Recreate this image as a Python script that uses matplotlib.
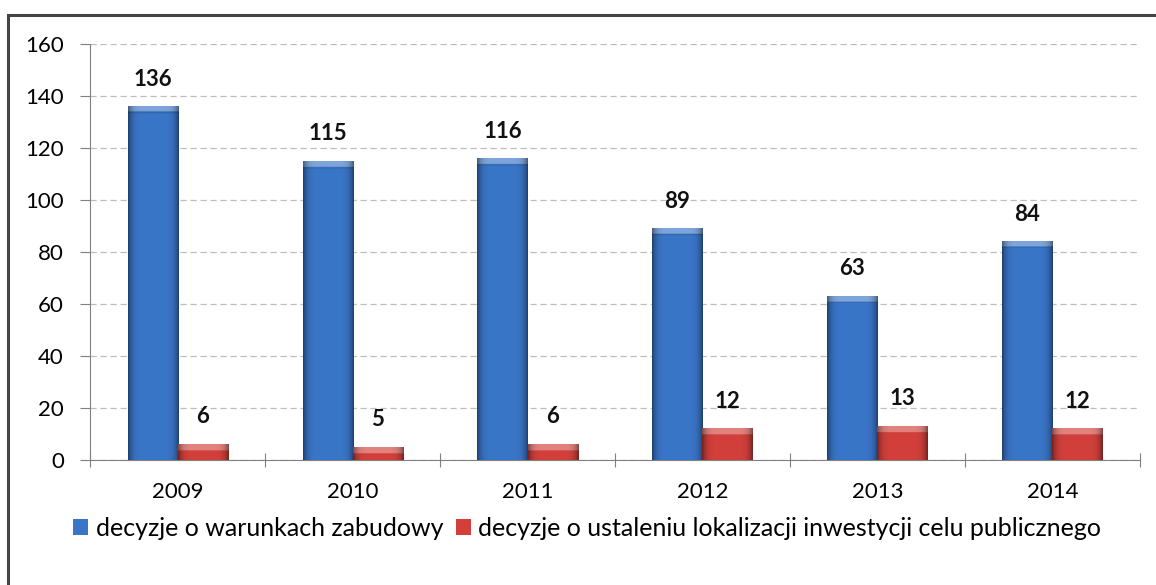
import numpy as np
import matplotlib
matplotlib.use('Agg')
import matplotlib.pyplot as plt
from matplotlib.patches import Rectangle
from matplotlib.colors import to_rgb

plt.rcParams['font.family'] = ['Lato', 'DejaVu Sans']

# chart data
years = ['2009', '2010', '2011', '2012', '2013', '2014']
warunki = [136, 115, 116, 89, 63, 84]
lokalizacja = [6, 5, 6, 12, 13, 12]
series_labels = ['decyzje o warunkach zabudowy',
                 'decyzje o ustaleniu lokalizacji inwestycji celu publicznego']
y_ticks = [0, 20, 40, 60, 80, 100, 120, 140, 160]

blue = '#3a76c8'
red = '#d3403b'

fig = plt.figure(figsize=(11.56, 5.85), dpi=100)
ax = fig.add_axes([0.078, 0.2137, 0.908, 0.711])

x = np.arange(len(years))
w = 0.286
b1 = ax.bar(x - w / 2, warunki, w, color=blue, edgecolor='none',
            label=series_labels[0], zorder=3)
b2 = ax.bar(x + w / 2, lokalizacja, w, color=red, edgecolor='none',
            label=series_labels[1], zorder=3)


def shade_bar(rect, color):
    # rough bevel look: darker side edges, lighter cap on top
    base = np.array(to_rgb(color))
    h = rect.get_height()
    nx, ny = 60, 200
    t = np.linspace(0, 1, nx)
    side = 1 - 0.45 * np.abs(2 * t - 1) ** 6
    img = np.ones((ny, nx, 3)) * base * side[None, :, None]
    cap = min(2.4 / h, 0.5) if h > 0 else 0
    ncap = max(int(ny * cap), 1)
    light = base + (1 - base) * 0.35
    img[:ncap] = light * side[None, :, None]
    img[ncap:ncap + 1] *= 0.85
    x0 = rect.get_x()
    ax.imshow(img, extent=(x0, x0 + rect.get_width(), 0, h), aspect='auto',
              zorder=4, interpolation='bilinear')


for r in b1:
    shade_bar(r, blue)
for r in b2:
    shade_bar(r, red)

for bars, vals in ((b1, warunki), (b2, lokalizacja)):
    for r, v in zip(bars, vals):
        ax.text(r.get_x() + r.get_width() / 2, v + 6.5, str(v), ha='center', va='bottom',
                fontsize=16, fontweight='bold', color='#111111')

ax.set_xlim(-0.5, len(years) - 0.5)
ax.set_ylim(0, 160)
ax.set_yticks(y_ticks)
ax.set_yticklabels([str(t) for t in y_ticks], fontsize=16)
ax.yaxis.grid(True, linestyle=(0, (5, 3)), color='#bdbdbd', linewidth=0.9, zorder=0)

# category separators on x axis
ax.set_xticks(np.arange(len(years) + 1) - 0.5)
ax.set_xticklabels([])
ax.set_xticks(x, minor=True)
ax.set_xticklabels(years, minor=True, fontsize=16)
ax.tick_params(axis='x', which='minor', length=0, pad=16)
ax.tick_params(axis='x', which='major', length=10, direction='inout', color='#808080')
ax.tick_params(axis='y', length=7, direction='out', color='#808080', pad=12)

for s in ['top', 'right']:
    ax.spines[s].set_visible(False)
ax.spines['left'].set_color('#808080')
ax.spines['bottom'].set_color('#808080')

fig.legend(handles=[b1, b2], labels=series_labels, loc='center', ncol=2,
           bbox_to_anchor=(0.508, 0.097), frameon=False, fontsize=18,
           handlelength=0.6, handleheight=0.6, handletextpad=0.3, columnspacing=0.5)

# outer chart border
fig.patches.append(Rectangle((0.007, -0.05), 1.05, 1.024, transform=fig.transFigure,
                             fill=False, edgecolor='#444444', linewidth=2.2))

fig.savefig('out.png', dpi=100)
